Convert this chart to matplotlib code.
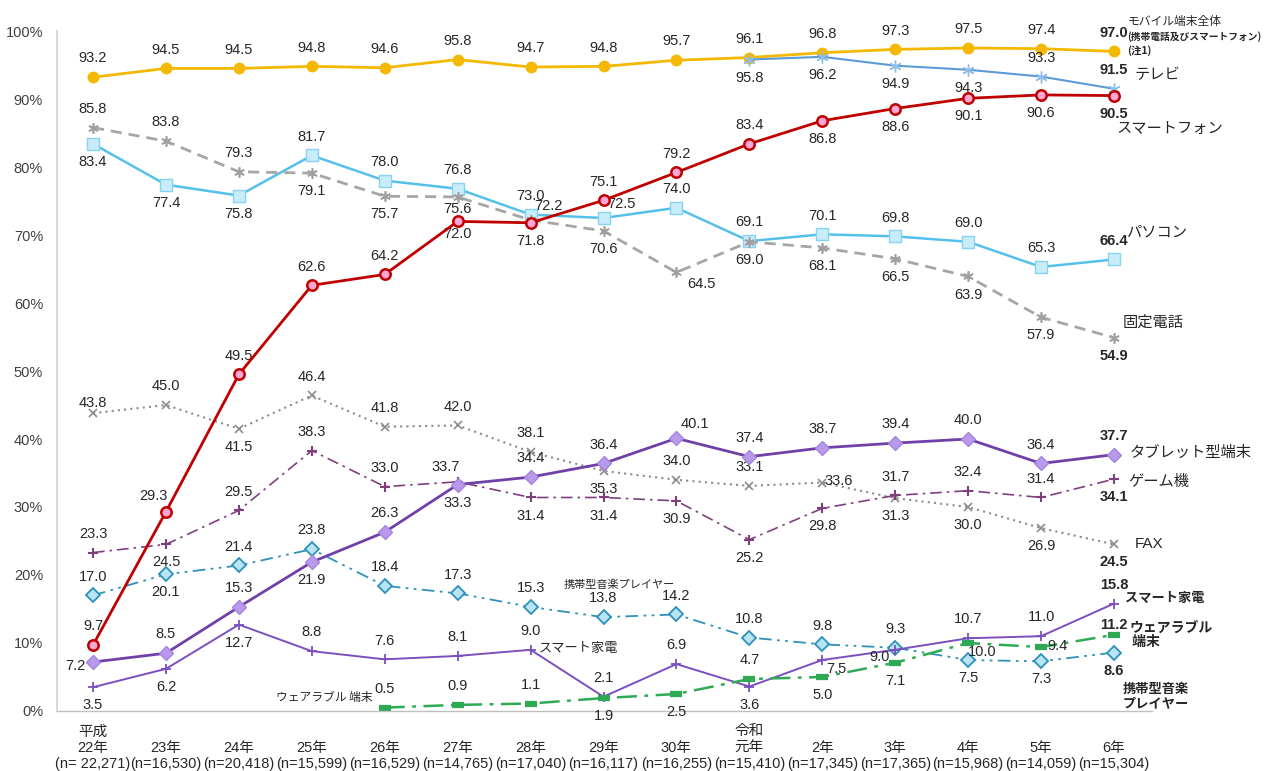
"""Device ownership rate by year (平成22年–令和6年), line chart with value labels."""
import matplotlib
matplotlib.use("Agg")
import matplotlib.pyplot as plt

YEARS = ["平成\n22年\n(n= 22,271)", "23年\n(n=16,530)", "24年\n(n=20,418)", "25年\n(n=15,599)",
         "26年\n(n=16,529)", "27年\n(n=14,765)", "28年\n(n=17,040)", "29年\n(n=16,117)",
         "30年\n(n=16,255)", "令和\n元年\n(n=15,410)", "2年\n(n=17,345)", "3年\n(n=17,365)",
         "4年\n(n=15,968)", "5年\n(n=14,059)", "6年\n(n=15,304)"]

mobile = [93.2, 94.5, 94.5, 94.8, 94.6, 95.8, 94.7, 94.8, 95.7, 96.1, 96.8, 97.3, 97.5, 97.4, 97.0]
tv = [95.8, 96.2, 94.9, 94.3, 93.3, 91.5]                      # from 令和元年
smartphone = [9.7, 29.3, 49.5, 62.6, 64.2, 72.0, 71.8, 75.1, 79.2, 83.4, 86.8, 88.6, 90.1, 90.6, 90.5]
pc = [83.4, 77.4, 75.8, 81.7, 78.0, 76.8, 73.0, 72.5, 74.0, 69.1, 70.1, 69.8, 69.0, 65.3, 66.4]
landline = [85.8, 83.8, 79.3, 79.1, 75.7, 75.6, 72.2, 70.6, 64.5, 69.0, 68.1, 66.5, 63.9, 57.9, 54.9]
fax = [43.8, 45.0, 41.5, 46.4, 41.8, 42.0, 38.1, 35.3, 34.0, 33.1, 33.6, 31.3, 30.0, 26.9, 24.5]
tablet = [7.2, 8.5, 15.3, 21.9, 26.3, 33.3, 34.4, 36.4, 40.1, 37.4, 38.7, 39.4, 40.0, 36.4, 37.7]
game = [23.3, 24.5, 29.5, 38.3, 33.0, 33.7, 31.4, 31.4, 30.9, 25.2, 29.8, 31.7, 32.4, 31.4, 34.1]
music = [17.0, 20.1, 21.4, 23.8, 18.4, 17.3, 15.3, 13.8, 14.2, 10.8, 9.8, 9.3, 7.5, 7.3, 8.6]
smart_home = [3.5, 6.2, 12.7, 8.8, 7.6, 8.1, 9.0, 2.1, 6.9, 3.6, 7.5, 9.0, 10.7, 11.0, 15.8]
wearable = [0.5, 0.9, 1.1, 1.9, 2.5, 4.7, 5.0, 7.1, 10.0, 9.4, 11.2]   # from 平成26年

FONT = ["Liberation Sans", "Noto Sans CJK JP", "DejaVu Sans"]
JP = ["Noto Sans CJK JP", "DejaVu Sans"]
TXT = "#262626"

# label placement codes -> offset in points
OFF = {"a": (0, 13.5), "b": (0, -13), "c": (0, 7), "e": (0, -9), "l": (-13, -3),
       "r": (12, 1), "p": (13, 10), "q": (-9, 11), "d": (10, -6.5), "D": (18, -8),
       "z": (-11, -5)}


def draw(ax, start, vals, codes, color, **kw):
    xs = list(range(start, start + len(vals)))
    ax.plot(xs, vals, color=color, **kw)
    for i, (x, v, c) in enumerate(zip(xs, vals, codes)):
        last = i == len(vals) - 1
        ax.annotate(f"{v:.1f}", (x, v), xytext=OFF[c], textcoords="offset points",
                    ha="center", va="center", fontsize=10.5, color=TXT,
                    fontweight="bold" if last else "normal", family=FONT)
    return xs[-1], vals[-1]


def name(ax, pt, text, dx, dy, size=10.5, ha="left", weight="normal", family=JP):
    ax.annotate(text, pt, xytext=(dx, dy), textcoords="offset points", ha=ha, va="center",
                fontsize=size, color=TXT, family=family, fontweight=weight, linespacing=1.05)


def main():
    plt.rcParams["font.family"] = FONT
    fig = plt.figure(figsize=(12.69, 7.71), dpi=100)
    ax = fig.add_axes([57 / 1269, 1 - 711 / 771, 1095 / 1269, 680 / 771])

    p = draw(ax, 0, mobile, "a" * 15, "#F5B800", lw=2, marker="o", ms=7.5, mfc="#F5B800", mec="#F5B800")
    name(ax, p, "モバイル端末全体", 10, 21.5, size=8.5)
    name(ax, p, "(携帯電話及びスマートフォン)", 9.5, 10.8, size=7, weight="bold")
    name(ax, p, "(注1)", 9.5, 0.5, size=7.5, weight="bold")

    p = draw(ax, 9, tv, "bbbbaa", "#5B9BD5", lw=1.5, marker=(6, 2, 0), ms=8.5, mec="#8DBDE8", mew=1)
    name(ax, p, "テレビ", 15, 10.5, size=11)

    p = draw(ax, 0, smartphone, "aqaaaebaaabbbbb", "#C00000", lw=2,
             marker="o", ms=7.5, mfc="#FFA6D5", mec="#C00000", mew=1.8, zorder=5)
    name(ax, p, "スマートフォン", 2, -23.5, size=11)

    p = draw(ax, 0, pc, "bbbaaaapaaaaaaa", "#55C1EA", lw=1.8, marker="s", ms=8.5,
             mfc="#C8ECFA", mec="#86D3F2", mew=1)
    name(ax, p, "パソコン", 9, 20, size=11)

    p = draw(ax, 0, landline, "aaabbepbDbbbbbb", "#A6A6A6", lw=2, ls=(0, (4, 2.5)),
             marker=(6, 2, 0), ms=7.5, mec="#A0A0A0", mew=1.2)
    name(ax, p, "固定電話", 6, 11, size=11)

    p = draw(ax, 0, fax, "cabaaaabaarbbbb", "#8C8C8C", lw=1.5, ls=(0, (1, 2)),
             marker="x", ms=6, mec="#8C8C8C", mew=1.2)
    name(ax, p, "FAX", 15, 0, size=11, family=FONT)

    p = draw(ax, 0, tablet, "laababaapaaaaaa", "#7040A8", lw=2, marker="D", ms=7.5,
             mfc="#B999EC", mec="#A584DE", mew=1, zorder=4)
    name(ax, p, "タブレット型端末", 11, 2, size=11)

    p = draw(ax, 0, game, "abaaaqbbbbbaaab", "#7F3F7F", lw=1.2, ls=(0, (7, 3, 1.5, 3)),
             marker="+", ms=7.5, mew=1.5)
    name(ax, p, "ゲーム機", 10, -2, size=11)

    p = draw(ax, 0, music, "abaaaaaaaaaabbb", "#2E91BA", lw=1.3, ls=(0, (7, 3, 1.5, 3, 1.5, 3)),
             marker="D", ms=7.5, mfc="#B8E4F4", mec="#2E91BA", mew=1.3)
    name(ax, p, "携帯型音楽\nプレイヤー", 6.5, -31.5, size=9.5, weight="bold")
    name(ax, (7, music[7]), "携帯型音楽プレイヤー", 11, 23.5, size=8, ha="center")

    p = draw(ax, 0, smart_home, "bbbaaaaaabdzaaa", "#7B4FBF", lw=1.4, marker="+", ms=7.5, mew=1.3)
    name(ax, p, "スマート家電", 8, 4, size=9.5, weight="bold")
    name(ax, (6, smart_home[6]), "スマート家電", 6, 1, size=9.5)

    p = draw(ax, 4, wearable, "aaabbabbdrc", "#2EAA55", lw=1.8, ls=(0, (8, 3, 1.5, 3)),
             marker="_", ms=8.5, mew=4.5)
    name(ax, p, "ウェアラブル\n 端末", 11, 0, size=10, weight="bold")
    name(ax, (4, wearable[0]), "ウェアラブル 端末", -9, 7.5, size=8.5, ha="right")

    ax.set_xlim(-0.494, 14.521)
    ax.set_ylim(0, 100)
    ax.set_yticks(range(0, 101, 10))
    ax.set_yticklabels([f"{v}%" for v in range(0, 101, 10)])
    ax.tick_params(axis="y", length=0, pad=10, labelsize=10.5, labelcolor="#404040")
    ax.set_xticks([])
    for i, lbl in enumerate(YEARS):
        ax.text(i, -0.088, lbl, transform=ax.get_xaxis_transform(), ha="center", va="bottom",
                fontsize=10.5, color=TXT, linespacing=1.2, family=FONT)
    for s in ("top", "right"):
        ax.spines[s].set_visible(False)
    ax.spines["left"].set_color("#D9D9D9"); ax.spines["left"].set_linewidth(1.5)
    ax.spines["bottom"].set_color("#BFBFBF"); ax.spines["bottom"].set_linewidth(1)

    fig.savefig("out.png", dpi=100)
    plt.close(fig)


if __name__ == "__main__":
    main()
